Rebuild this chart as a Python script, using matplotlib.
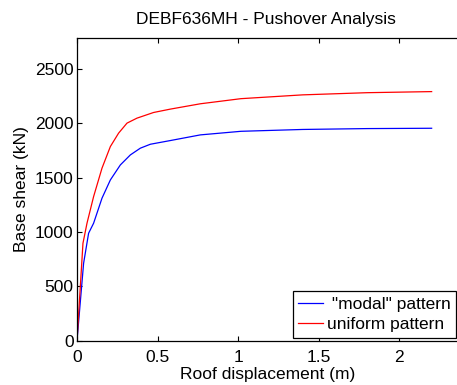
import numpy as np
import matplotlib
matplotlib.use("Agg")
import matplotlib.pyplot as plt

plt.rcParams['font.family'] = ['Liberation Sans', 'DejaVu Sans']

# pushover curves
disp_modal = [0.0, 0.041, 0.072, 0.103, 0.155, 0.207, 0.269, 0.331, 0.393, 0.455,
              0.579, 0.765, 1.017, 1.4, 1.8, 2.2]
shear_modal = [0, 712, 988, 1080, 1310, 1478, 1616, 1708, 1770, 1806,
               1840, 1892, 1925, 1942, 1950, 1953]

disp_unif = [0.0, 0.037, 0.062, 0.103, 0.155, 0.207, 0.258, 0.31, 0.372, 0.475,
             0.579, 0.765, 1.017, 1.4, 1.8, 2.2]
shear_unif = [0, 896, 1080, 1325, 1586, 1785, 1908, 2000, 2046, 2098,
              2129, 2178, 2225, 2260, 2280, 2290]

xticks = [0, 0.5, 1, 1.5, 2, 2.5]
xticklabels = ["0", "0.5", "1", "1.5", "2", ""]
yticks = [0, 500, 1000, 1500, 2000, 2500]

fig = plt.figure(figsize=(4.57, 3.85), dpi=100)
ax = fig.add_axes([77 / 457, 44.3 / 385, 403 / 457, 302.4 / 385])

ax.plot(disp_modal, shear_modal, color="#0000ff", lw=0.9, label=' "modal" pattern')
ax.plot(disp_unif, shear_unif, color="#ff0000", lw=0.9, label="uniform pattern")

ax.set_xlim(0, 2.5)
ax.set_ylim(0, 2780)
ax.set_xticks(xticks)
ax.set_xticklabels(xticklabels)
ax.set_yticks(yticks)
ax.tick_params(direction="in", top=True, right=True, length=3.5, labelsize=12.5)
ax.tick_params(axis="x", pad=6.5)
ax.tick_params(axis="y", pad=2.5)
for s in ax.spines.values():
    s.set_linewidth(0.9)

ax.set_xlabel("Roof displacement (m)", fontsize=12.5)
ax.xaxis.set_label_coords(0.474, -0.087)
ax.set_ylabel("Base shear (kN)", fontsize=12.5, labelpad=4)
t = ax.set_title("DEBF636MH - Pushover Analysis", fontsize=12.5, pad=10)
t.set_x(0.469)

leg = ax.legend(loc="lower left", bbox_to_anchor=(216 / 403, 0.01), fontsize=12.5,
                frameon=True, fancybox=False, edgecolor="black", framealpha=1,
                borderpad=0.3, labelspacing=0.32, handlelength=1.45, handletextpad=0.2,
                borderaxespad=0)
leg.get_frame().set_linewidth(0.9)

fig.savefig("out.png", dpi=100)
